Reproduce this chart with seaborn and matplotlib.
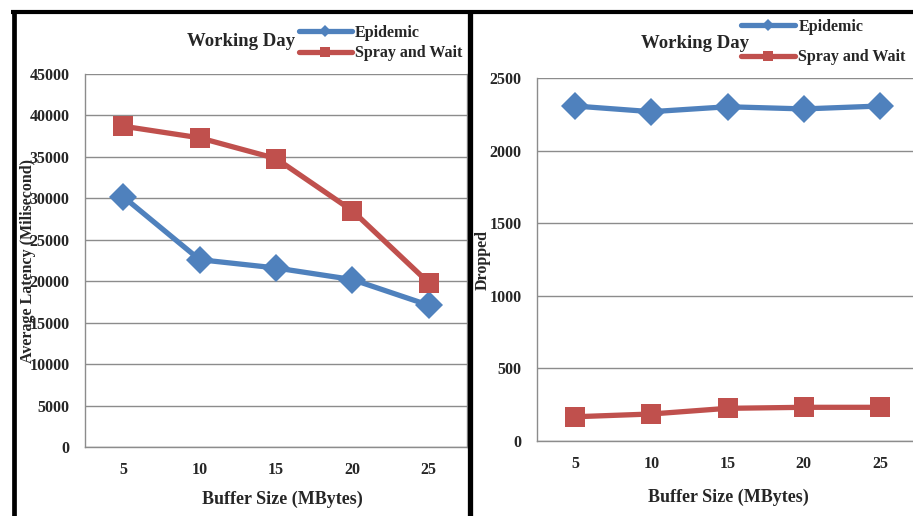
import matplotlib
matplotlib.use("Agg")
import matplotlib.pyplot as plt
from matplotlib.lines import Line2D
import pandas as pd
import seaborn as sns

# Buffer sizes (MBytes) on the category axis
buffer_sizes = ["5", "10", "15", "20", "25"]
protocols = ["Epidemic", "Spray and Wait"]

# Average latency (milliseconds)
latency_epidemic = [30200, 22600, 21600, 20200, 17100]
latency_spray = [38700, 37300, 34800, 28500, 19800]

# Dropped messages
dropped_epidemic = [2307, 2268, 2302, 2287, 2307]
dropped_spray = [167, 186, 225, 232, 232]

latency_ticks = list(range(0, 45001, 5000))
dropped_ticks = list(range(0, 2501, 500))

BLUE = "#4F81BD"
RED = "#C0504D"
GRID = "#8C8C8C"
palette = {"Epidemic": BLUE, "Spray and Wait": RED}
markers = {"Epidemic": "D", "Spray and Wait": "s"}


def long_table(values_a, values_b, name):
    return pd.DataFrame({
        "buffer": buffer_sizes * 2,
        "protocol": [protocols[0]] * len(buffer_sizes) + [protocols[1]] * len(buffer_sizes),
        name: list(values_a) + list(values_b),
    })


latency_df = long_table(latency_epidemic, latency_spray, "value")
dropped_df = long_table(dropped_epidemic, dropped_spray, "value")

sns.set_theme(style="white")
plt.rcParams["font.family"] = ["Liberation Serif", "DejaVu Serif"]
plt.rcParams["font.weight"] = "bold"

W, H = 913, 516
fig = plt.figure(figsize=(W / 100, H / 100), dpi=100)
fig.patch.set_facecolor("white")


def fx(px):
    return px / W


def fy(py):
    return 1 - py / H


def draw_panel(rect, df, ticks, ymax):
    ax = fig.add_axes(rect)
    for name in protocols:
        sub = df[df["protocol"] == name]
        sns.lineplot(data=sub, x="buffer", y="value", ax=ax, color=palette[name],
                     marker=markers[name], linewidth=3.8,
                     markersize=14.5 if name == "Epidemic" else 14,
                     markeredgewidth=0, sort=False, legend=False)
    ax.set_xlim(-0.5, len(buffer_sizes) - 0.5)
    ax.set_ylim(0, ymax)
    ax.set_yticks(ticks)
    ax.set_yticklabels([str(t) for t in ticks])
    ax.set_xticks(range(len(buffer_sizes)))
    ax.set_xticklabels(buffer_sizes)
    ax.set_xlabel("")
    ax.set_ylabel("")
    ax.grid(axis="y", color=GRID, linewidth=1.0)
    ax.set_axisbelow(True)
    for side in ["left", "bottom", "top", "right"]:
        ax.spines[side].set_color(GRID)
        ax.spines[side].set_linewidth(1.0)
    ax.spines["top"].set_visible(False)
    ax.tick_params(axis="both", length=0, labelsize=11.5)
    ax.tick_params(axis="y", pad=11)
    ax.tick_params(axis="x", pad=11)
    for lab in ax.get_xticklabels() + ax.get_yticklabels():
        lab.set_fontweight("bold")
    return ax


ax1 = draw_panel([fx(85), fy(447), fx(467) - fx(85), fy(74) - fy(447)],
                 latency_df, latency_ticks, 45000)
ax2 = draw_panel([fx(537), fy(441), fx(918) - fx(537), fy(78) - fy(441)],
                 dropped_df, dropped_ticks, 2500)

# Titles and axis labels
fig.text(fx(241), fy(42), "Working Day", ha="center", va="center",
         fontsize=13.5, fontweight="bold")
fig.text(fx(695), fy(43), "Working Day", ha="center", va="center",
         fontsize=13.5, fontweight="bold")
fig.text(fx(282), fy(499), "Buffer Size (MBytes)", ha="center", va="center",
         fontsize=13, fontweight="bold")
fig.text(fx(728), fy(497), "Buffer Size (MBytes)", ha="center", va="center",
         fontsize=13, fontweight="bold")
fig.text(fx(28), fy(261), "Average Latency (Milisecond)", ha="center", va="center",
         rotation=90, fontsize=11.5, fontweight="bold")
fig.text(fx(483), fy(260), "Dropped", ha="center", va="center",
         rotation=90, fontsize=11.5, fontweight="bold")


def legend_handles():
    return [
        Line2D([], [], color=BLUE, linewidth=3.8, marker="D", markersize=6,
               markeredgewidth=0),
        Line2D([], [], color=RED, linewidth=3.8, marker="s", markersize=7,
               markeredgewidth=0),
    ]


fig.legend(legend_handles(), protocols, loc="upper left",
           bbox_to_anchor=(fx(299), fy(25)), frameon=False,
           prop={"weight": "bold", "size": 11.5}, handlelength=3.3,
           handletextpad=0.2, labelspacing=0.28, borderpad=0, borderaxespad=0)
fig.legend(legend_handles(), protocols, loc="upper left",
           bbox_to_anchor=(fx(741), fy(19)), frameon=False,
           prop={"weight": "bold", "size": 11.5}, handlelength=3.4,
           handletextpad=0.2, labelspacing=0.9, borderpad=0, borderaxespad=0)

# Black panel frames
frame_kw = dict(color="black", transform=fig.transFigure, solid_capstyle="butt")
fig.add_artist(Line2D([fx(11), 1.0], [fy(12), fy(12)], linewidth=3.0, **frame_kw))
fig.add_artist(Line2D([fx(13.5), fx(13.5)], [0, fy(10)], linewidth=3.4, **frame_kw))
fig.add_artist(Line2D([fx(469.5), fx(469.5)], [0, fy(10)], linewidth=3.8, **frame_kw))

fig.savefig("out.png", dpi=100, facecolor="white")
